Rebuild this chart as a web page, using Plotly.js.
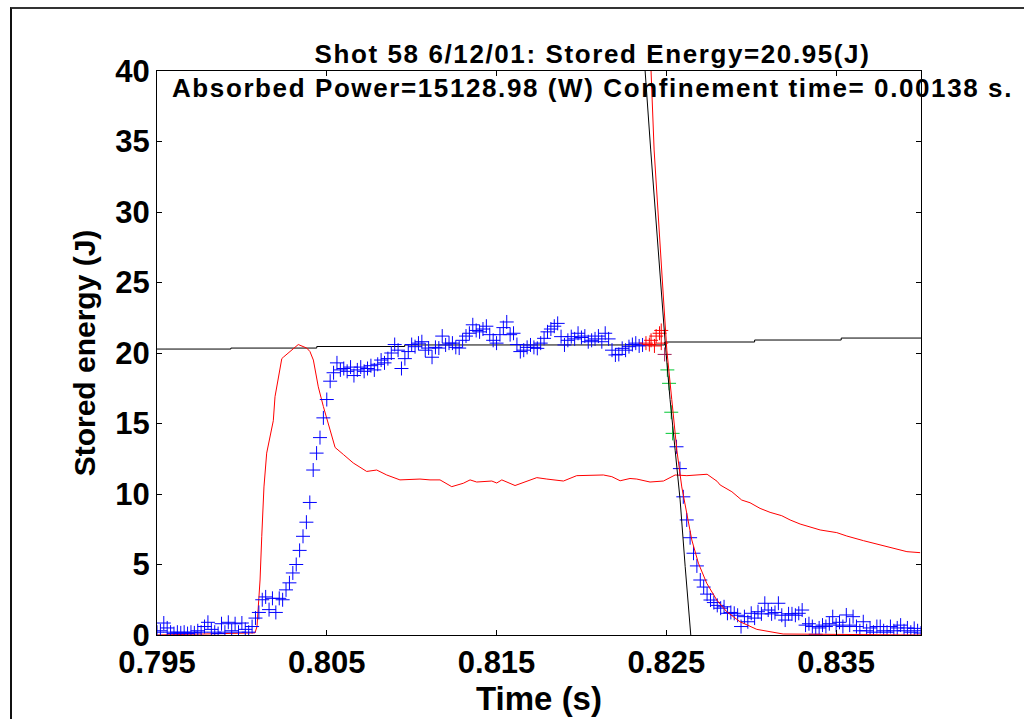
<!DOCTYPE html>
<html>
<head>
<meta charset="utf-8">
<script src="https://cdn.plot.ly/plotly-3.0.1.min.js"></script>
<style>
  html, body { margin: 0; padding: 0; background: #fff; overflow: hidden; }
  #frame { position: absolute; left: 10px; top: 7px; width: 1100px; height: 800px;
           border-left: 2px solid #111; border-top: 2px solid #333; pointer-events: none; z-index: 2; }
  #plot { position: absolute; left: 0; top: 0; width: 1024px; height: 719px; z-index: 1; }
  #plot .gtitle { letter-spacing: 1.6px; }
</style>
</head>
<body>
<div id="plot"></div>
<div id="frame"></div>
<script>
// ---------- data ----------
// Stored energy samples (blue +), sampled every 0.2 ms starting at 0.795 s
const energyStart = 0.795;
const energyStep = 0.0002;
const energyValues = [
  0.2, 0.3, 0.85, 0.5, 0.2, 0.1, 0.2, 0.15, 0.2, 0.1,
  0.2, 0.15, 0.3, 0.2, 0.6, 0.9, 0.4, 0.2, 0.1, 0.8,
  0.2, 0.9, 0.3, 0.8, 0.2, 0.85, 0.4, 0.2, 0.6, 1.2,
  1.6, 2.5, 2.7, 1.8, 2.6, 1.6, 2.6, 2.5, 3.2, 3.7,
  4.4, 5.0, 6.0, 7.0, 8.0, 9.4, 11.7, 12.9, 14.0, 15.4,
  16.7, 18.0, 18.6, 19.3, 18.8, 18.9, 18.7, 19.0, 18.4, 18.8,
  19.0, 18.7, 18.9, 19.1, 18.8, 19.2, 19.5, 19.3, 19.6, 20.0,
  20.6, 20.2, 18.9, 19.6, 20.1, 20.6, 20.45, 20.7, 20.8, 20.2,
  20.35, 19.7, 20.4, 20.35, 21.2, 20.57, 20.7, 20.7, 20.4, 20.35,
  20.9, 21.2, 21.4, 22.0, 21.6, 21.5, 21.7, 21.9, 21.3, 20.9,
  20.7, 21.3, 21.8, 22.2, 21.3, 21.4, 20.6, 20.1, 20.2, 20.4,
  20.57, 20.4, 20.33, 20.7, 21.04, 21.5, 21.7, 21.9, 22.1, 21.16,
  20.57, 20.9, 21.16, 21.0, 21.4, 21.1, 21.2, 20.8, 20.9, 21.0,
  21.2, 20.8, 21.4, 21.0, 20.2, 19.86, 19.9, 20.33, 20.2, 20.45,
  20.6, 20.7, 20.5, 20.57, null, null, null, null, null, null,
  null, null, null, 13.35, 11.8, 9.8, 8.16, 6.9, 5.8, 4.9,
  3.9, 3.4, 2.9, 2.48, 2.3, 2.1, 1.9, 2.0, 1.54, 1.6,
  1.54, 1.4, 0.6, 1.3, 0.94, 1.54, 1.2, 1.65, 1.5, 2.25,
  1.77, 1.5, 1.6, 2.25, 1.4, 1.06, 1.5, 1.5, 1.4, 1.54,
  1.77, 0.7, 0.8, 0.6, 0.05, 0.5, 0.7, 0.6, 0.8, 1.3,
  0.7, 0.9, 0.6, 1.42, 0.7, 1.3, 0.6, 0.3, 0.94, 0.3,
  0.5, 0.2, 0.6, 0.6, 0.3, 0.2, 0.6, 0.3, 0.5, 0.7,
  0.3, 0.5, 0.2, 0.47, 0.3, 0.14
];
const energyTimes = energyValues.map((_, i) => +(energyStart + i * energyStep).toFixed(4));

// Highlighted samples at the start of the decay
const redTimes   = [0.8238, 0.8240, 0.8241, 0.8243, 0.8244, 0.8246, 0.8247, 0.8247];
const redValues  = [20.7, 20.6, 20.9, 20.5, 21.2, 21.4, 21.6, 20.7];
const purpleTimes  = [0.8249];
const purpleValues = [19.9];
const greenTimes  = [0.82506, 0.82516, 0.82529, 0.82537];
const greenValues = [18.8, 17.85, 15.8, 14.3];

// Red trace (power-like signal)
const powerTimes = [
  0.795, 0.7983, 0.80077, 0.80089, 0.80107, 0.80117, 0.8013, 0.80146, 0.80166, 0.80185,
  0.80195, 0.80215, 0.80235, 0.80244, 0.80303, 0.80332, 0.80382, 0.80401, 0.80421, 0.8045,
  0.8048, 0.80509, 0.80549, 0.80598, 0.80656, 0.80735, 0.80794, 0.80853, 0.80931, 0.81049,
  0.81108, 0.81167, 0.81236, 0.81304, 0.81344, 0.81383, 0.81472, 0.81501, 0.81531, 0.81609,
  0.81697, 0.81737, 0.81796, 0.81894, 0.81972, 0.82051, 0.82129, 0.82179, 0.82228, 0.82286,
  0.82326, 0.82404, 0.82483, 0.82552, 0.82621, 0.8274, 0.82799, 0.82817, 0.82886, 0.82944,
  0.82993, 0.83052, 0.83111, 0.8318, 0.83229, 0.83288, 0.83347, 0.83406, 0.83504, 0.83563,
  0.83661, 0.8374, 0.83838, 0.83917, 0.83995
];
const powerValues = [
  0.0, 0.1, 0.15, 0.6, 3.9, 7.0, 10.5, 12.9, 14.0, 15.2,
  16.9, 18.3, 19.6, 19.7, 20.35, 20.6, 20.35, 20.1, 19.5, 17.6,
  16.2, 15.0, 13.3, 12.8, 12.2, 11.6, 11.7, 11.35, 11.0, 11.06,
  11.0, 11.0, 10.52, 10.76, 11.0, 10.85, 10.92, 10.78, 11.0, 10.6,
  10.95, 11.16, 11.06, 10.92, 11.3, 11.3, 11.35, 11.23, 10.94, 11.1,
  11.06, 10.85, 10.92, 11.35, 11.3, 11.4, 10.9, 10.64, 10.16, 9.57,
  9.38, 8.98, 8.7, 8.46, 8.16, 7.87, 7.68, 7.45, 7.26, 7.02,
  6.69, 6.45, 6.15, 5.91, 5.84
];

// Red exponential fit of the decay
const fitTimes  = [0.8241, 0.82428, 0.82483, 0.82503, 0.82532, 0.82562, 0.82591, 0.82621, 0.8265, 0.82689,
                   0.82738, 0.82797, 0.82856, 0.82934, 0.83033, 0.83188, 0.840];
const fitValues = [40, 34.4, 23.9, 20.2, 16.7, 13.1, 10.5, 8.65, 6.74, 5.09,
                   3.67, 2.48, 1.65, 0.94, 0.4, 0.07, 0.0];

// Black near-constant reference line
const refTimes  = [0.795, 0.79935, 0.80441, 0.80959, 0.8249, 0.8302, 0.8353, 0.840];
const refValues = [20.28, 20.35, 20.46, 20.57, 20.78, 20.92, 21.06, 21.06];

// Black steep line
const steepTimes  = [0.82375, 0.82408, 0.82493, 0.82522, 0.82552, 0.82581, 0.82611, 0.82644];
const steepValues = [40, 34.4, 20.8, 16.7, 13.1, 9.6, 4.85, 0];

// Axis ticks
const xTickVals = [0.795, 0.805, 0.815, 0.825, 0.835];
const xTickText = ['0.795', '0.805', '0.815', '0.825', '0.835'];
const yTickVals = [0, 5, 10, 15, 20, 25, 30, 35, 40];
const yTickText = ['0', '5', '10', '15', '20', '25', '30', '35', '40'];

const titleLine1 = 'Shot 58 6/12/01: Stored Energy=20.95(J)';
const titleLine2 = 'Absorbed Power=15128.98 (W) Confinement time= 0.00138 s.';

// ---------- chart ----------
const FONT = 'Liberation Sans, Arial, Helvetica, sans-serif';
const crossMarker = (color) => ({ symbol: 'cross-thin-open', size: 10, color: color, line: { color: color, width: 1 } });

const traces = [
  { x: refTimes, y: refValues, mode: 'lines', line: { color: '#000', width: 1, shape: 'hv' } },
  { x: powerTimes, y: powerValues, mode: 'lines', line: { color: '#ff0000', width: 1 } },
  { x: energyTimes, y: energyValues, mode: 'markers', marker: crossMarker('#0000ff') },
  { x: redTimes, y: redValues, mode: 'markers', marker: crossMarker('#ff0000') },
  { x: purpleTimes, y: purpleValues, mode: 'markers', marker: crossMarker('#a0205a') },
  { x: greenTimes, y: greenValues, mode: 'markers', marker: crossMarker('#00c832') },
  { x: steepTimes, y: steepValues, mode: 'lines', line: { color: '#000', width: 1 } },
  { x: fitTimes, y: fitValues, mode: 'lines', line: { color: '#ff0000', width: 1 } }
];

const axisCommon = {
  showline: true, linecolor: '#000', linewidth: 1, mirror: 'ticks',
  ticks: 'inside', ticklen: 5, tickwidth: 1, tickcolor: '#000',
  showgrid: false, zeroline: false, tickmode: 'array',
  tickfont: { family: FONT, size: 31, color: '#000', weight: 'bold' }
};

const layout = {
  width: 1024, height: 719,
  paper_bgcolor: 'rgba(0,0,0,0)', plot_bgcolor: '#fff',
  margin: { l: 157, r: 103, t: 71, b: 84, pad: 0 },
  showlegend: false,
  title: {
    text: titleLine1 + '<br>' + titleLine2,
    font: { family: FONT, size: 26, color: '#000', weight: 'bold' },
    xref: 'paper', x: 0.57, xanchor: 'center',
    yref: 'container', y: 0.9117, yanchor: 'middle'
  },
  xaxis: Object.assign({}, axisCommon, {
    range: [0.795, 0.840], tickvals: xTickVals, ticktext: xTickText,
    title: { text: 'Time (s)', font: { family: FONT, size: 33, color: '#000', weight: 'bold' }, standoff: 6 }
  }),
  yaxis: Object.assign({}, axisCommon, {
    range: [0, 40], tickvals: yTickVals, ticktext: yTickText,
    title: { text: 'Stored energy (J)', font: { family: FONT, size: 30, color: '#000', weight: 'bold' }, standoff: 10 }
  })
};

Plotly.newPlot('plot', traces, layout, { displayModeBar: false, staticPlot: true });
</script>
</body>
</html>
